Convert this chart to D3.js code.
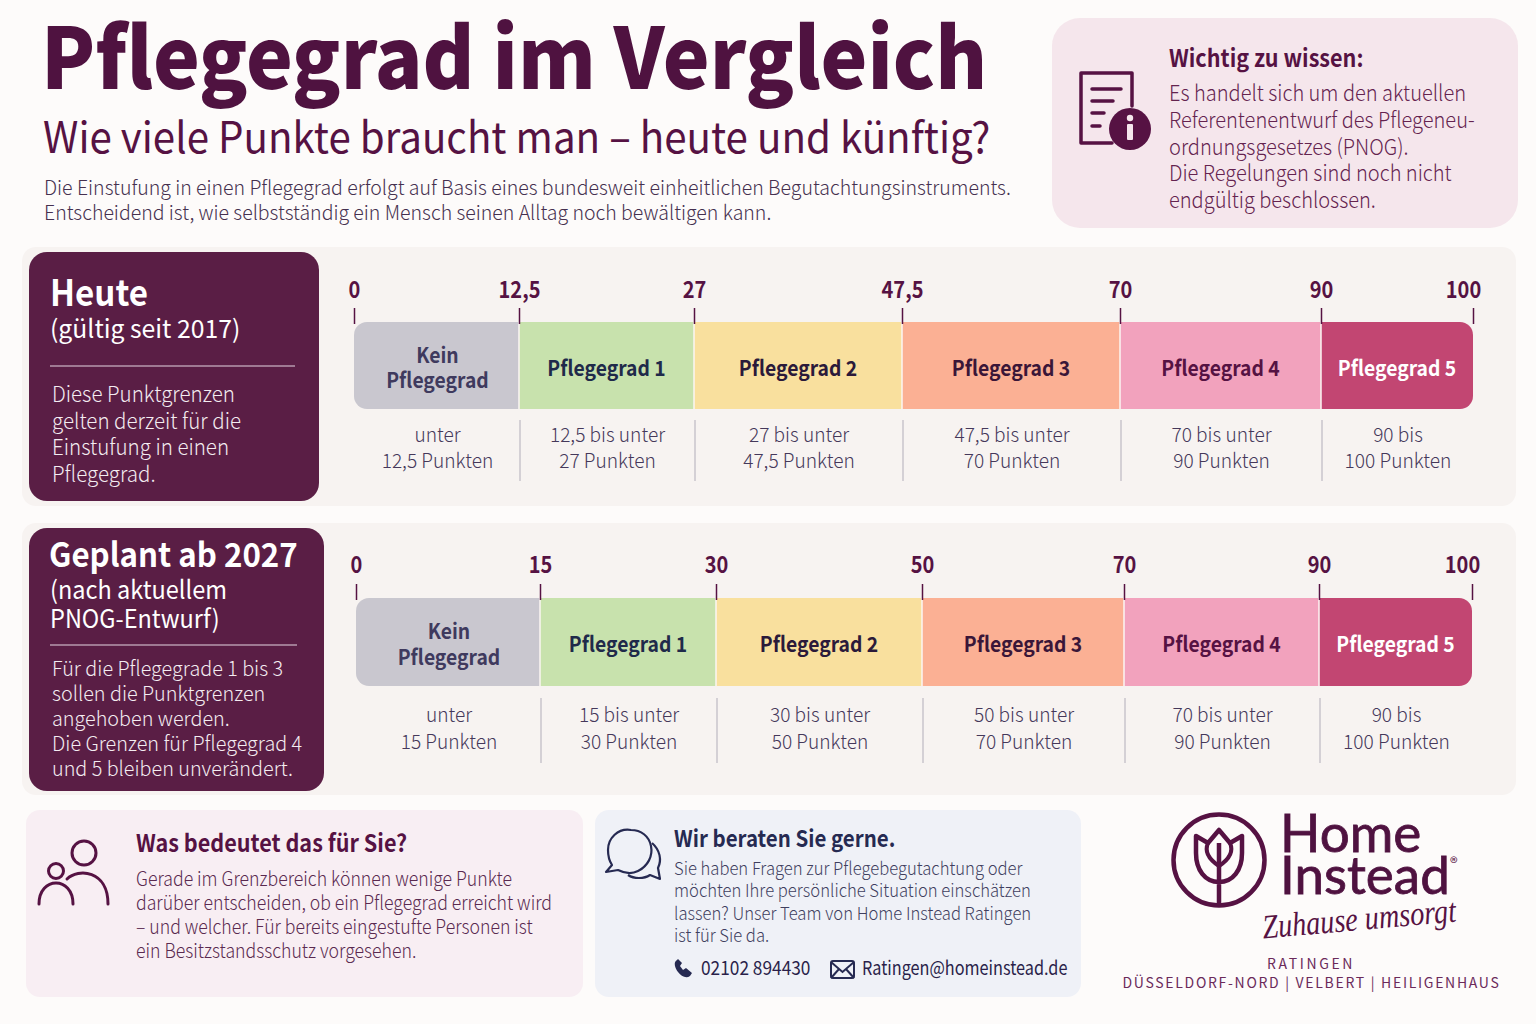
<!DOCTYPE html>
<html lang="de">
<head>
<meta charset="utf-8">
<title>Pflegegrad im Vergleich</title>
<script src="https://cdn.jsdelivr.net/npm/d3@7"></script>
<style>
  html, body { margin: 0; padding: 0; background: #fdfbfa; }
  svg { display: block; font-family: "Noto Sans CJK SC", "Noto Sans", sans-serif; }
  .sep { stroke: #c9c5cb; stroke-width: 1.5; }
  .axis text { font-size: 23px; font-weight: 700; fill: #561243; font-family: "Noto Sans CJK SC", sans-serif; }
  .axis line { stroke: #561243; stroke-width: 1.5; }
</style>
</head>
<body>
<svg id="chart" width="1536" height="1024"></svg>
<script>
// data
const categories = ['Kein Pflegegrad', 'Pflegegrad 1', 'Pflegegrad 2', 'Pflegegrad 3', 'Pflegegrad 4', 'Pflegegrad 5'];
const heuteLimits = [0, 12.5, 27, 47.5, 70, 90, 100];
const geplantLimits = [0, 15, 30, 50, 70, 90, 100];
const heuteRanges = [['unter', '12,5 Punkten'], ['12,5 bis unter', '27 Punkten'], ['27 bis unter', '47,5 Punkten'],
  ['47,5 bis unter', '70 Punkten'], ['70 bis unter', '90 Punkten'], ['90 bis', '100 Punkten']];
const geplantRanges = [['unter', '15 Punkten'], ['15 bis unter', '30 Punkten'], ['30 bis unter', '50 Punkten'],
  ['50 bis unter', '70 Punkten'], ['70 bis unter', '90 Punkten'], ['90 bis', '100 Punkten']];

// the bar in the original is not to scale, so the scale range is set stop by stop
const heuteStops = [354, 519, 694, 902, 1120, 1321, 1473];
const geplantStops = [356, 540, 716, 922, 1124, 1319, 1472];

const barColors = ['#c9c7cf', '#c8e2ad', '#f9e09e', '#fbb094', '#f2a2bd', '#c24672'];
const barText = ['#3f3a5e', '#1f2a4a', '#2b1a3a', '#3a1638', '#561243', '#ffffff'];

const dark = '#561243';
const svg = d3.select('#chart');
const defs = svg.append('defs');

svg.append('rect').attr('width', 1536).attr('height', 1024).attr('fill', '#fdfbfa');

function box(x, y, w, h, r, fill) {
  return svg.append('rect').attr('x', x).attr('y', y).attr('width', w).attr('height', h)
    .attr('rx', r).attr('fill', fill);
}

// narrows a text, the font of the original runs tighter than the installed one
function squeeze(sel, factor) {
  sel.each(function() {
    const len = this.getComputedTextLength();
    d3.select(this).attr('textLength', len * factor).attr('lengthAdjust', 'spacingAndGlyphs');
  });
}

// one svg text per line
function lines(parent, x, y, lh, rows, size, weight, fill, anchor, factor) {
  rows.forEach((row, i) => {
    const t = parent.append('text')
      .attr('x', x).attr('y', y + i * lh)
      .attr('font-size', size).attr('font-weight', weight)
      .attr('fill', fill).attr('text-anchor', anchor || 'start')
      .text(row);
    squeeze(t, factor || 1);
  });
}

// header
lines(svg, 41, 89, 0, ['Pflegegrad im Vergleich'], 84, 900, '#4f1240', 'start', 0.94);
lines(svg, 43, 153, 0, ['Wie viele Punkte braucht man – heute und künftig?'], 43, 400, '#561243', 'start', 0.937);
lines(svg, 44, 195, 25, ['Die Einstufung in einen Pflegegrad erfolgt auf Basis eines bundesweit einheitlichen Begutachtungsinstruments.',
  'Entscheidend ist, wie selbstständig ein Mensch seinen Alltag noch bewältigen kann.'], 20, 300, '#45304f', 'start', 0.975);

// info box
box(1052, 18, 466, 210, 28, '#f5e6ec');
lines(svg, 1169, 67, 0, ['Wichtig zu wissen:'], 24, 700, dark, 'start', 0.9);
lines(svg, 1169, 101, 26.8, ['Es handelt sich um den aktuellen', 'Referentenentwurf des Pflegeneu-', 'ordnungsgesetzes (PNOG).',
  'Die Regelungen sind noch nicht', 'endgültig beschlossen.'], 22, 300, '#64234f', 'start', 0.91);
const doc = svg.append('g').attr('fill', 'none').attr('stroke', dark).attr('stroke-linecap', 'round');
doc.append('path').attr('d', 'M1132 106V73H1081V143H1112').attr('stroke-width', 3.5).attr('stroke-linejoin', 'round');
[[1092, 1121, 89], [1092, 1113, 101], [1092, 1104, 113], [1092, 1100, 126]].forEach(d => {
  doc.append('line').attr('x1', d[0]).attr('x2', d[1]).attr('y1', d[2]).attr('y2', d[2]).attr('stroke-width', 3.5);
});
svg.append('circle').attr('cx', 1130).attr('cy', 129).attr('r', 21).attr('fill', dark);
svg.append('circle').attr('cx', 1130).attr('cy', 118).attr('r', 3.2).attr('fill', '#f5e6ec');
svg.append('rect').attr('x', 1127).attr('y', 124).attr('width', 6).attr('height', 16).attr('rx', 1).attr('fill', '#f5e6ec');

// the two comparison rows
function row(opt) {
  box(22, opt.panelY, 1494, opt.panelH, 14, '#f7f3f1');
  box(opt.cardX, opt.cardY, opt.cardW, opt.cardH, 18, '#5a1e45');

  const x = d3.scaleLinear().domain(opt.limits).range(opt.stops);
  const segs = categories.map((c, i) => ({ name: c, from: opt.limits[i], to: opt.limits[i + 1], i: i }));
  const y = d3.scaleBand().domain(['bar']).range([opt.barY, opt.barY + opt.barH]);

  defs.append('clipPath').attr('id', opt.id + '-clip').append('rect')
    .attr('x', x(0)).attr('y', y('bar')).attr('width', x(100) - x(0)).attr('height', y.bandwidth()).attr('rx', 13);

  const g = svg.append('g').attr('id', opt.id);
  g.append('g').attr('clip-path', 'url(#' + opt.id + '-clip)')
    .selectAll('rect').data(segs).enter().append('rect')
    .attr('x', d => x(d.from)).attr('y', y('bar'))
    .attr('width', d => x(d.to) - x(d.from)).attr('height', y.bandwidth())
    .attr('fill', d => barColors[d.i]);

  // white seams between the segments
  g.selectAll('.seam').data(opt.limits.slice(1, -1)).enter().append('line')
    .attr('class', 'seam')
    .attr('x1', d => x(d)).attr('x2', d => x(d))
    .attr('y1', y('bar')).attr('y2', y('bar') + y.bandwidth())
    .attr('stroke', '#fbf6f3').attr('stroke-width', 1.5);

  const axis = d3.axisTop(x).tickValues(opt.limits).tickSize(opt.tick).tickPadding(opt.tickPad)
    .tickFormat(d => String(d).replace('.', ','));
  const ax = g.append('g').attr('class', 'axis').attr('transform', 'translate(0,' + (opt.barY + 2) + ')').call(axis);
  ax.select('.domain').remove();
  ax.selectAll('.tick text').filter(d => d === 100).attr('dx', -10);
  squeeze(ax.selectAll('.tick text'), 0.87);

  // names in the bar
  segs.forEach(d => {
    const cx = (x(d.from) + x(d.to)) / 2 + (d.i === 0 ? 1 : 0);
    const rows = d.i === 0 ? d.name.split(' ') : [d.name];
    const top = y('bar') + y.bandwidth() / 2 + (d.i === 0 ? -3 : 10);
    lines(g, cx, top, 25.5, rows, 21, 700, barText[d.i], 'middle', 0.92);
  });

  // separators under the bar
  g.selectAll('.sep').data(opt.limits.slice(1, -1)).enter().append('line')
    .attr('class', 'sep')
    .attr('x1', d => x(d) + 1).attr('x2', d => x(d) + 1)
    .attr('y1', opt.sepY).attr('y2', opt.sepY + opt.sepH);

  segs.forEach(d => {
    const cx = (x(d.from) + x(d.to)) / 2 + 1;
    lines(g, cx, opt.rangeY, opt.rangeLh, opt.ranges[d.i], 20, 300, '#45385a', 'middle', 0.955);
  });
}

row({ id: 'heute', limits: heuteLimits, stops: heuteStops, ranges: heuteRanges,
  panelY: 247, panelH: 259, cardX: 29, cardY: 252, cardW: 290, cardH: 249,
  barY: 322, barH: 87, tick: 16, tickPad: 10, sepY: 420, sepH: 61, rangeY: 442, rangeLh: 26 });
row({ id: 'geplant', limits: geplantLimits, stops: geplantStops, ranges: geplantRanges,
  panelY: 523, panelH: 272, cardX: 29, cardY: 528, cardW: 295, cardH: 263,
  barY: 598, barH: 88, tick: 16, tickPad: 11, sepY: 698, sepH: 65, rangeY: 722, rangeLh: 27 });

// card texts
lines(svg, 50, 306, 0, ['Heute'], 36, 700, '#ffffff', 'start', 0.92);
lines(svg, 50, 338, 0, ['(gültig seit 2017)'], 25, 400, '#ffffff', 'start', 0.99);
svg.append('line').attr('x1', 50).attr('x2', 295).attr('y1', 366).attr('y2', 366).attr('stroke', '#b79aae').attr('stroke-width', 1.5);
lines(svg, 52, 402, 26.5, ['Diese Punktgrenzen', 'gelten derzeit für die', 'Einstufung in einen', 'Pflegegrad.'], 21.5, 300, '#f4ecf1', 'start', 0.955);

lines(svg, 49, 567, 0, ['Geplant ab 2027'], 33, 700, '#ffffff', 'start', 0.947);
lines(svg, 50, 599, 29, ['(nach aktuellem', 'PNOG-Entwurf)'], 25, 400, '#ffffff', 'start', 0.94);
svg.append('line').attr('x1', 50).attr('x2', 297).attr('y1', 645).attr('y2', 645).attr('stroke', '#b79aae').attr('stroke-width', 1.5);
lines(svg, 52, 676, 25, ['Für die Pflegegrade 1 bis 3', 'sollen die Punktgrenzen', 'angehoben werden.', 'Die Grenzen für Pflegegrad 4', 'und 5 bleiben unverändert.'], 20.5, 300, '#f4ecf1', 'start', 0.965);

// bottom left box
box(26, 810, 557, 187, 14, '#f8eef3');
lines(svg, 136, 852, 0, ['Was bedeutet das für Sie?'], 24, 700, dark, 'start', 0.9);
lines(svg, 136, 886, 24, ['Gerade im Grenzbereich können wenige Punkte', 'darüber entscheiden, ob ein Pflegegrad erreicht wird',
  '– und welcher. Für bereits eingestufte Personen ist', 'ein Besitzstandsschutz vorgesehen.'], 19.5, 300, '#5a2a50', 'start', 0.906);
const people = svg.append('g').attr('fill', 'none').attr('stroke', dark).attr('stroke-width', 3).attr('stroke-linecap', 'round');
people.append('circle').attr('cx', 84).attr('cy', 853).attr('r', 12);
people.append('circle').attr('cx', 56).attr('cy', 871).attr('r', 7.5);
people.append('path').attr('d', 'M67 879C78 868 108 870 108 904');
people.append('path').attr('d', 'M39 904C39 876 73 876 73 904');

// contact box
box(595, 810, 486, 187, 14, '#eff1f7');
lines(svg, 674, 847, 0, ['Wir beraten Sie gerne.'], 23, 700, '#262a52', 'start', 0.89);
lines(svg, 674, 875, 22.3, ['Sie haben Fragen zur Pflegebegutachtung oder', 'möchten Ihre persönliche Situation einschätzen',
  'lassen? Unser Team von Home Instead Ratingen', 'ist für Sie da.'], 17.5, 300, '#3f3f5f', 'start', 0.95);
lines(svg, 701, 975, 0, ['02102 894430'], 19, 400, '#2a1f4a', 'start', 0.91);
lines(svg, 862, 975, 0, ['Ratingen@homeinstead.de'], 19, 400, '#2a1f4a', 'start', 0.855);
const talk = svg.append('g').attr('fill', 'none').attr('stroke', '#262a52').attr('stroke-width', 2.2).attr('stroke-linejoin', 'round');
talk.append('path').attr('d', 'M631 830C618 828 608 838 608 850C608 856 610 862 612 865L606 872L618 870C624 873 632 874 638 871C648 866 653 856 651 846C649 836 641 830 631 830Z');
talk.append('path').attr('d', 'M652 843C660 850 662 860 658 868L660 879L650 875C644 879 634 879 628 875');
svg.append('path').attr('fill', '#262a52').attr('d', 'M677 960C673 962 675 968 678 972C681 976 686 979 690 976L692 973L686 968L683 970L680 966L682 963L678 959Z');
const mail = svg.append('g').attr('fill', 'none').attr('stroke', '#262a52').attr('stroke-width', 2);
mail.append('rect').attr('x', 831).attr('y', 961).attr('width', 23).attr('height', 17).attr('rx', 2);
mail.append('path').attr('d', 'M831 962L842.5 972L854 962M831 978L839 969M854 978L846 969');

// logo
const logo = svg.append('g').attr('fill', 'none').attr('stroke', dark).attr('stroke-width', 4.5).attr('stroke-linejoin', 'round');
logo.append('circle').attr('cx', 1219).attr('cy', 860).attr('r', 45.5);
logo.append('path').attr('d', 'M1219 905V843M1219 882C1205 882 1196 870 1196 853V836L1208 843L1219 830L1230 843L1242 836V853C1242 870 1233 882 1219 882Z');
logo.append('path').attr('d', 'M1208 843C1204 852 1210 860 1219 866C1228 860 1234 852 1230 843').attr('stroke-width', 4);
['Home', 'Instead'].forEach((w, i) => {
  svg.append('text').attr('x', 1280).attr('y', 852 + i * 42)
    .attr('font-family', 'Lato, sans-serif').attr('font-size', 53).attr('font-weight', 400)
    .attr('fill', '#4f1240').attr('stroke', '#4f1240').attr('stroke-width', 0.8).text(w);
});
lines(svg, 1450, 869, 0, ['®'], 16, 400, dark);
const script = svg.append('text').attr('x', 1360).attr('y', 930).attr('text-anchor', 'middle')
  .attr('font-family', '"Liberation Serif", serif').attr('font-style', 'italic')
  .attr('font-size', 34).attr('fill', dark)
  .attr('transform', 'rotate(-5 1360 930)').text('Zuhause umsorgt');
squeeze(script, 0.83);
svg.append('text').attr('x', 1311).attr('y', 969).attr('text-anchor', 'middle').attr('font-size', 14)
  .attr('letter-spacing', 2.6).attr('fill', '#6b2a5a').text('RATINGEN');
svg.append('text').attr('x', 1311.5).attr('y', 988).attr('text-anchor', 'middle').attr('font-size', 14)
  .attr('letter-spacing', 1.7).attr('fill', '#6b2a5a').text('DÜSSELDORF-NORD | VELBERT | HEILIGENHAUS');
</script>
</body>
</html>
